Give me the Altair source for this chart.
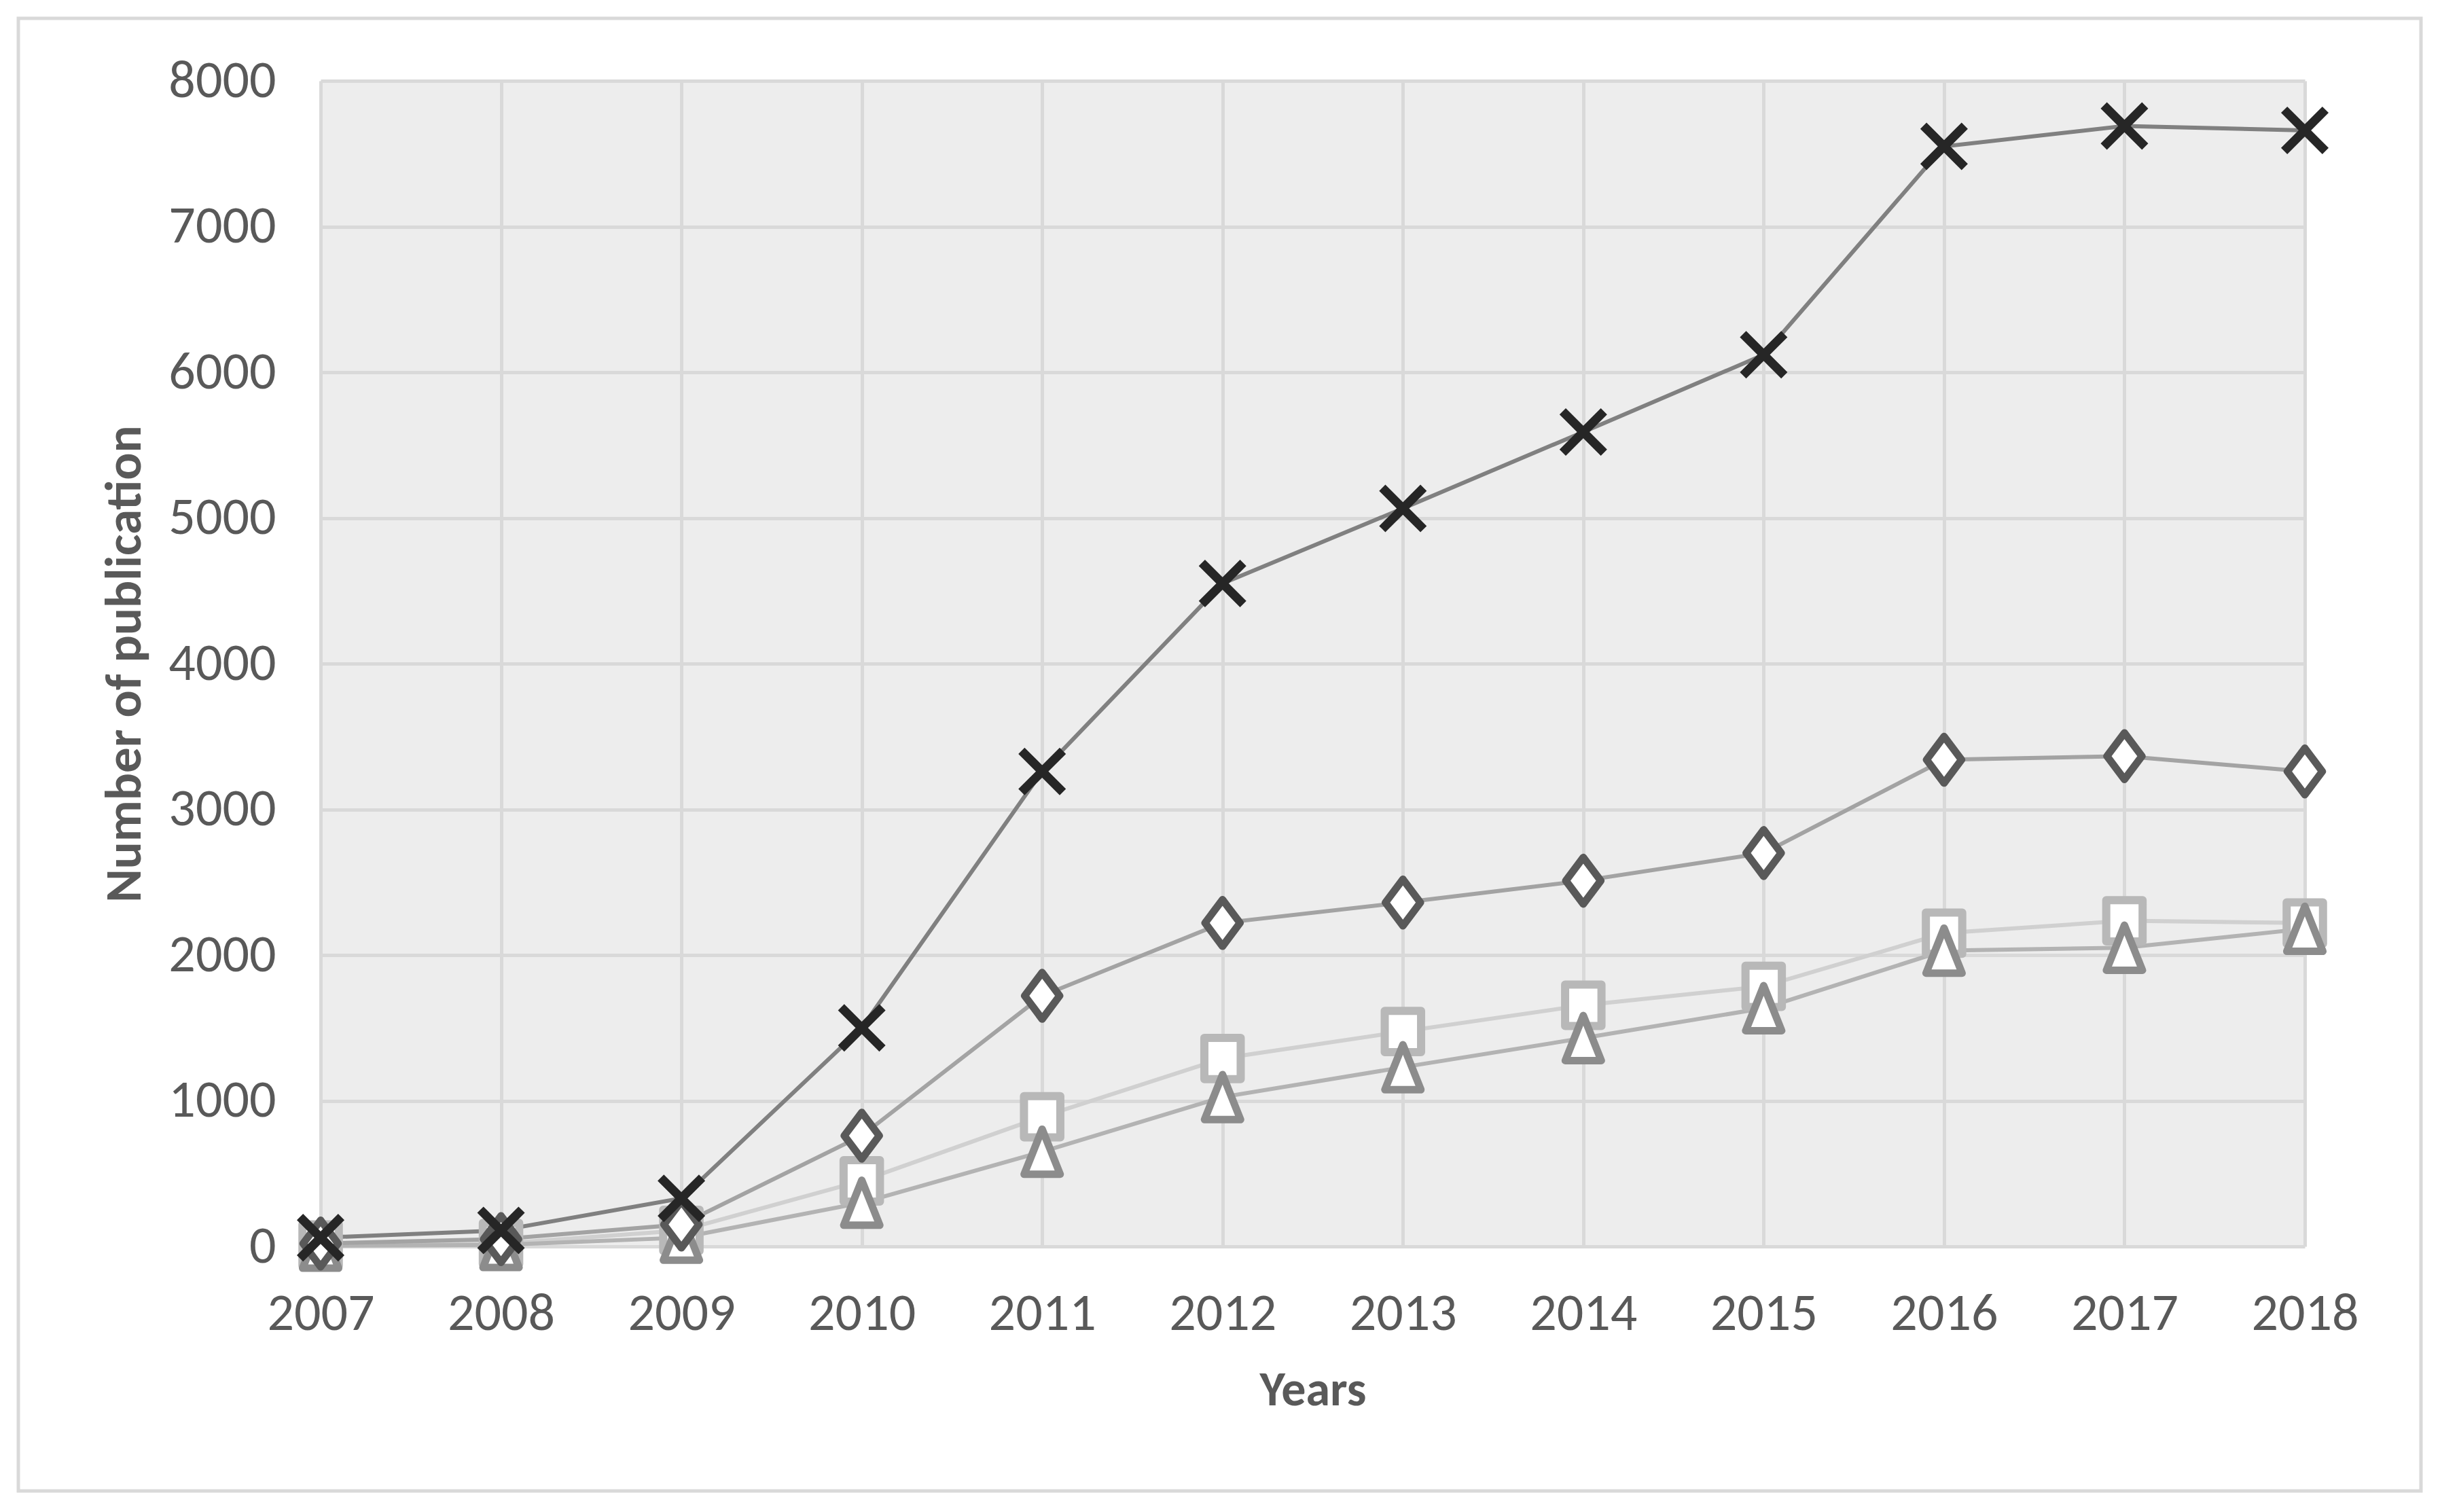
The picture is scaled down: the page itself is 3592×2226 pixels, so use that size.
import altair as alt
import pandas as pd

years = ["2007", "2008", "2009", "2010", "2011", "2012", "2013", "2014", "2015", "2016", "2017", "2018"]
series_x = [60, 110, 330, 1500, 3260, 4550, 5065, 5590, 6120, 7550, 7690, 7660]
series_diamond = [20, 50, 150, 760, 1720, 2220, 2360, 2510, 2700, 3340, 3365, 3260]
series_square = [10, 20, 110, 450, 890, 1290, 1475, 1655, 1785, 2150, 2235, 2220]
series_triangle = [5, 10, 60, 300, 650, 1025, 1230, 1430, 1635, 2030, 2050, 2180]
y_ticks = [0, 1000, 2000, 3000, 4000, 5000, 6000, 7000, 8000]

names = ["cross", "diamond", "square", "triangle"]
values = [series_x, series_diamond, series_square, series_triangle]

rows = []
for n, vals in zip(names, values):
    for yr, v in zip(years, vals):
        rows.append({"year": yr, "value": v, "series": n})
df = pd.DataFrame(rows)

FONT = "Carlito, Liberation Sans Narrow, Lato"
TXT = "#595959"

x_enc = alt.X("year:O", scale=alt.Scale(type="point", padding=0), title="Years",
              axis=alt.Axis(labelAngle=0, labelFontSize=78, labelColor=TXT, labelFont=FONT,
                            labelPadding=60, ticks=False, domain=False,
                            grid=True, gridColor="#d9d9d9", gridWidth=5,
                            titleFont=FONT, titleFontSize=72, titleFontWeight="bold",
                            titleColor=TXT, titleY=211, titleBaseline="middle"))
y_enc = alt.Y("value:Q", scale=alt.Scale(domain=[0, 8000], nice=False),
              title="Number of publication",
              axis=alt.Axis(values=y_ticks, format="d", labelFontSize=78, labelColor=TXT,
                            labelFont=FONT, labelPadding=66, ticks=False, domain=False,
                            grid=True, gridColor="#d9d9d9", gridWidth=5,
                            titleFont=FONT, titleFontSize=75, titleFontWeight="bold",
                            titleColor=TXT, titleX=-289, titleY=858,
                            titleBaseline="middle", titleAlign="center"))

line_colors = {"cross": "#808080", "diamond": "#a3a3a3", "square": "#d0d0d0", "triangle": "#b3b3b3"}
shapes = {
    "cross": "M-1,-1L1,1M-1,1L1,-1",
    "diamond": "M0,-1L0.75,0L0,1L-0.75,0Z",
    "square": "M-0.88,-1L0.88,-1L0.88,1L-0.88,1Z",
    "triangle": "M0,-1L0.8,1L-0.8,1Z",
}
marker_stroke = {"cross": "#262626", "diamond": "#595959", "square": "#b8b8b8", "triangle": "#8c8c8c"}
marker_size = {"cross": 3700, "diamond": 4700, "square": 3700, "triangle": 4400}
marker_sw = {"cross": 13, "diamond": 11, "square": 12, "triangle": 11}

base = alt.Chart(df)

border = alt.Chart(pd.DataFrame({"a": [0]})).mark_rect(
    fillOpacity=0, stroke="#d9d9d9", strokeWidth=5
).encode(x=alt.value(-445), x2=alt.value(3092), y=alt.value(-92), y2=alt.value(2076))

layers = [border]
line_order = ["square", "triangle", "diamond", "cross"]
for n in line_order:
    layers.append(
        base.transform_filter(alt.datum.series == n)
        .mark_line(color=line_colors[n], strokeWidth=6)
        .encode(x=x_enc, y=y_enc)
    )
for n in line_order:
    layers.append(
        base.transform_filter(alt.datum.series == n)
        .mark_point(shape=shapes[n], size=marker_size[n], filled=False,
                    fill="white" if n != "cross" else None,
                    fillOpacity=1 if n != "cross" else 0,
                    stroke=marker_stroke[n], strokeWidth=marker_sw[n], opacity=1,
                    strokeJoin="round", strokeCap="butt")
        .encode(x=x_enc, y=y_enc)
    )

chart = alt.layer(*layers).properties(
    width=2921, height=1716,
    autosize=alt.AutoSizeParams(type="none"),
    padding={"left": 464, "top": 111, "right": 185, "bottom": 375},
    background="white",
).configure_view(fill="#ededed", stroke=None)

chart.save("out.html", embed_options={"renderer": "svg", "actions": False})
